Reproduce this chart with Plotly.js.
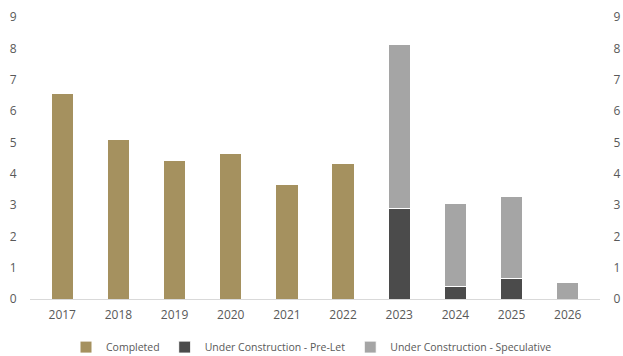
<!DOCTYPE html>
<html><head><meta charset="utf-8">
<script src="https://cdn.plot.ly/plotly-3.0.1.min.js"></script>
<style>html,body{margin:0;padding:0;background:#fff}#c{width:623px;height:356px}</style>
</head><body><div id="c"></div>
<script>
const years = ['2017','2018','2019','2020','2021','2022','2023','2024','2025','2026'];
const completed = [6.55, 5.1, 4.43, 4.64, 3.67, 4.34, null, null, null, null];
const preLet = [null, null, null, null, null, null, 2.88, 0.39, 0.65, null];
const speculative = [null, null, null, null, null, null, 5.24, 2.65, 2.63, 0.53];
const yTicks = [0,1,2,3,4,5,6,7,8,9];

const line = {color:'#ffffff', width:1};
const data = [
  {type:'bar', name:'Completed', x:years, y:completed, marker:{color:'#A5915F', line:line}},
  {type:'bar', name:'Under Construction - Pre-Let', x:years, y:preLet, marker:{color:'#4B4B4B', line:line}},
  {type:'bar', name:'Under Construction - Speculative', x:years, y:speculative, marker:{color:'#A5A5A5', line:line}},
  {type:'scatter', x:years, y:years.map(()=>null), yaxis:'y2', showlegend:false, hoverinfo:'skip'}
];
const tickFont = {family:'Open Sans, sans-serif', size:12, color:'#595959'};
const layout = {
  width:623, height:356,
  margin:{l:30, r:23, t:17, b:57},
  paper_bgcolor:'#fff', plot_bgcolor:'#fff',
  barmode:'stack', bargap:0.6,
  showlegend:true,
  legend:{orientation:'h', x:0.5, xanchor:'center', xref:'container', y:0.025, yanchor:'middle', yref:'container',
          font:{family:'Open Sans, sans-serif', size:10.5, color:'#595959'}, itemwidth:30, traceorder:'normal'},
  xaxis:{type:'category', showline:true, linecolor:'#d9d9d9', linewidth:1, ticks:'outside', ticklen:5, tickcolor:'rgba(0,0,0,0)', tickfont:tickFont, showgrid:false},
  yaxis:{range:[0,9], tickvals:yTicks, showgrid:false, zeroline:false, showline:false,
         ticks:'outside', ticklen:10, tickcolor:'rgba(0,0,0,0)', tickfont:tickFont},
  yaxis2:{range:[0,9], tickvals:yTicks, overlaying:'y', side:'right', showgrid:false, zeroline:false, showline:false,
         ticks:'outside', ticklen:10, tickcolor:'rgba(0,0,0,0)', tickfont:tickFont}
};
Plotly.newPlot('c', data, layout, {displayModeBar:false, staticPlot:true});
</script></body></html>
